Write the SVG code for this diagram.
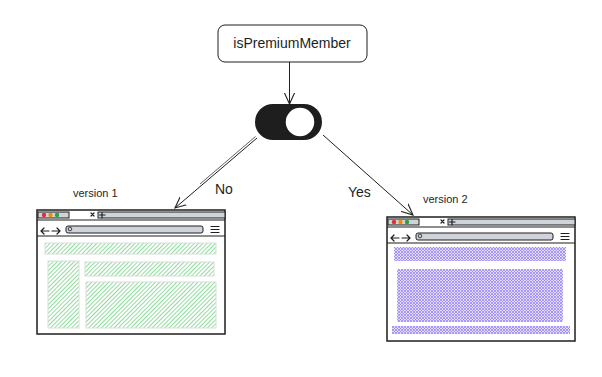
<svg xmlns="http://www.w3.org/2000/svg" width="602" height="377" viewBox="0 0 602 377">
<style>
.ink{fill:none;stroke:#1e1e1e;stroke-width:1.2;stroke-linecap:round;stroke-linejoin:round}
.frame{fill:#fff;stroke:#1e1e1e;stroke-width:1.5}
.bar{fill:#ced4da;stroke:#1e1e1e;stroke-width:1}
.lbl{font-family:"Liberation Sans",Arial,sans-serif;fill:#1e1e1e}
.g{fill:url(#hatchG);stroke:#dcdcdc;stroke-width:1}
.p{fill:url(#hatchP);stroke:none}
</style>
<defs>
<pattern id="hatchG" patternUnits="userSpaceOnUse" width="3" height="3" patternTransform="rotate(45)">
<line x1="0.5" y1="0" x2="0.5" y2="3" stroke="#8fdc9c" stroke-width="1"/>
</pattern>
<pattern id="hatchP" patternUnits="userSpaceOnUse" width="3" height="3">
<rect width="3" height="3" fill="#e4dcff"/>
<path d="M0,3 L3,0 M-1,1 L1,-1 M2,4 L4,2 M0,0 L3,3 M-1,2 L1,4 M2,-1 L4,1" stroke="#9b86f2" stroke-width="0.8"/>
</pattern>
<marker id="arr" viewBox="0 0 12 12" refX="11" refY="6" markerWidth="12" markerHeight="12" markerUnits="userSpaceOnUse" orient="auto">
<path d="M0,1 L11,6 L0,11" fill="none" stroke="#1e1e1e" stroke-width="1.1" stroke-linecap="round"/>
</marker>
<g id="chrome">
<rect class="frame" x="37" y="210" width="188" height="124"/>
<rect class="bar" x="38" y="212" width="31" height="6" fill="#e9ecef"/>
<circle cx="44" cy="215" r="2.2" fill="#e03131"/>
<circle cx="50.5" cy="215" r="2.2" fill="#f08c00"/>
<circle cx="57" cy="215" r="2.2" fill="#2f9e44"/>
<path class="ink" d="M91,213 l3,3 M94,213 l-3,3" stroke-width="1"/>
<rect class="bar" x="98" y="212" width="127" height="6"/>
<path class="ink" d="M102,212.5 v5.5 M99.5,215 h5.5" stroke-width="1"/>
<line x1="37" y1="220" x2="225" y2="220" stroke="#1e1e1e" stroke-width="1.2"/>
<path class="ink" d="M49,231 h-8 M44,228 l-3,3 l3,3 M52,231 h8 M57,228 l3,3 l-3,3"/>
<rect class="bar" x="66" y="226" width="137" height="7" rx="2"/>
<circle cx="70" cy="229" r="1.8" fill="none" stroke="#1e1e1e" stroke-width="0.8"/>
<path class="ink" d="M211,226.5 h8 M211,229.5 h8 M211,232.5 h8"/>
<line x1="37" y1="236" x2="225" y2="236" stroke="#1e1e1e" stroke-width="1.2"/>
</g>
</defs>

<g id="node-ispremium">
<rect x="218" y="25" width="149" height="37" rx="7" fill="#fff" stroke="#1e1e1e" stroke-width="1"/>
<text class="lbl" x="292" y="48" font-size="14" text-anchor="middle">isPremiumMember</text>
</g>

<g id="node-toggle">
<rect x="255" y="104" width="67" height="36" rx="18" fill="#1e1e1e"/>
<circle cx="300" cy="122" r="15" fill="#fff" stroke="#1e1e1e" stroke-width="1.5"/>
</g>

<g id="node-version1">
<use href="#chrome"/>
<text class="lbl" x="73" y="197" font-size="11">version 1</text>
<rect class="g" x="45" y="243" width="171" height="11"/>
<rect class="g" x="48" y="261" width="31" height="67"/>
<rect class="g" x="85" y="262" width="129" height="14"/>
<rect class="g" x="86" y="282" width="130" height="46"/>
</g>

<g id="node-version2">
<use href="#chrome" transform="translate(350,7)"/>
<text class="lbl" x="423" y="203" font-size="11">version 2</text>
<rect class="p" x="394" y="247" width="172" height="14"/>
<rect class="p" x="397" y="269" width="166" height="53"/>
<rect class="p" x="392" y="326" width="178" height="8"/>
</g>

<g id="connectors" fill="none" stroke="#1e1e1e" stroke-width="1">
<line x1="289.5" y1="62" x2="289.5" y2="104" marker-end="url(#arr)"/>
<line x1="257" y1="138" x2="175" y2="208" marker-end="url(#arr)"/>
<line x1="255.5" y1="136.5" x2="200" y2="184" stroke-width="0.7"/>
<line x1="323" y1="135" x2="413" y2="215" marker-end="url(#arr)"/>
</g>
<text class="lbl" x="215" y="194" font-size="14">No</text>
<text class="lbl" x="348" y="197" font-size="14">Yes</text>
</svg>
